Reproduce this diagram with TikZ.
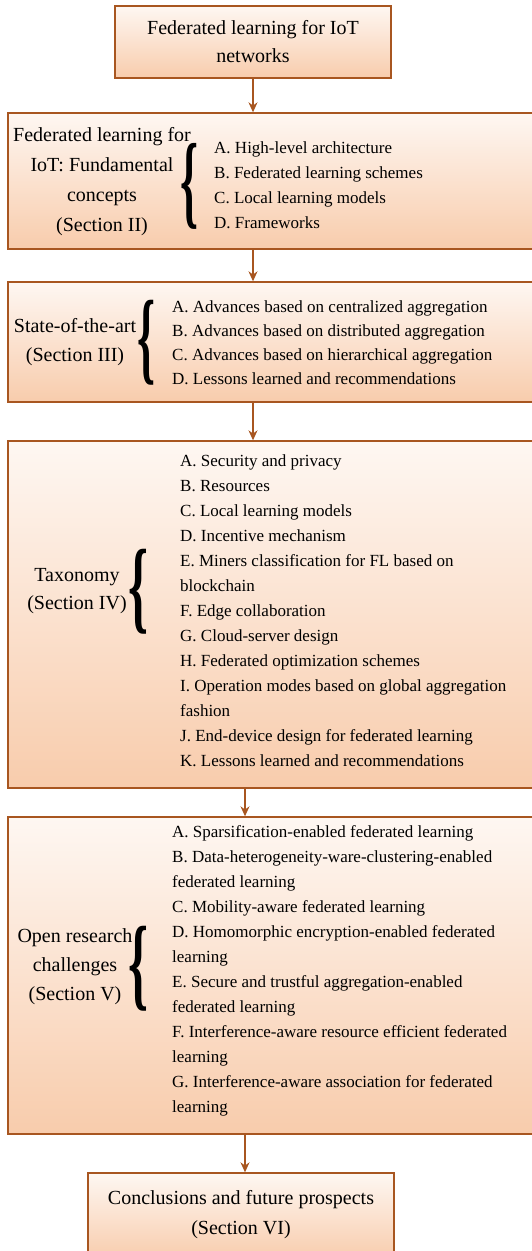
\documentclass[tikz,border=0pt]{standalone}
\usepackage{fontspec}
\setmainfont{Liberation Serif}
\usetikzlibrary{arrows.meta}
\definecolor{boxline}{RGB}{168,86,32}
\definecolor{boxtop}{RGB}{254,247,242}
\definecolor{boxbot}{RGB}{248,204,172}
\definecolor{arr}{RGB}{168,86,32}
\tikzset{
 panel/.style={draw=boxline, line width=1.4pt, top color=boxtop, bottom color=boxbot, rectangle, inner sep=0pt},
 title/.style={font=\fontsize{20}{28}\selectfont, align=center, inner sep=0pt},
 lbl/.style={font=\fontsize{20}{29}\selectfont, align=center, inner sep=0pt},
 items/.style={font=\fontsize{17}{25}\selectfont, align=left, inner sep=0pt, anchor=west},
 brace/.style={inner sep=0pt},
 link/.style={draw=arr, line width=1.1pt, -{Stealth[length=10pt,width=9pt]}},
}
\newcommand{\mybrace}[2]{\resizebox*{#1}{#2}{\fontsize{40}{40}\selectfont\bfseries\{}}
\begin{document}
\begin{tikzpicture}[x=1pt,y=-1pt]
\useasboundingbox (0,0) rectangle (531,1251);
% panels
\node[panel, minimum width=276pt, minimum height=72pt] (b1) at (253,42) {};
\node[panel, minimum width=525pt, minimum height=136pt] (b2) at (270.5,181) {};
\node[panel, minimum width=525pt, minimum height=120pt] (b3) at (270.5,342) {};
\node[panel, minimum width=525pt, minimum height=347pt] (b4) at (270.5,614.5) {};
\node[panel, minimum width=525pt, minimum height=317pt] (b5) at (270.5,975.5) {};
\node[panel, minimum width=306pt, minimum height=87pt] (b6) at (241,1216.5) {};
% box 1
\node[title] (t1) at (253,42) {Federated learning for IoT\\networks};
% box 2
\node[lbl, font=\fontsize{20}{30}\selectfont] (l2) at (102,182) {Federated learning for\\IoT: Fundamental\\concepts\\(Section II)};
\node[brace] (br2) at (189,186) {\mybrace{18pt}{86pt}};
\node[items] (i2) at (214,185) {A. High-level architecture\\B. Federated learning schemes\\C. Local learning models\\D. Frameworks};
% box 3
\node[lbl] (l3) at (75,342) {State-of-the-art\\(Section III)};
\node[brace] (br3) at (146.5,342.5) {\mybrace{18pt}{85pt}};
\node[items, font=\fontsize{17}{24}\selectfont] (i3) at (172,343) {A. Advances based on centralized aggregation\\B. Advances based on distributed aggregation\\C. Advances based on hierarchical aggregation\\D. Lessons learned and recommendations};
% box 4
\node[lbl, font=\fontsize{20}{28}\selectfont] (l4) at (77,591) {Taxonomy\\(Section IV)};
\node[brace] (br4) at (138.5,592) {\mybrace{20pt}{85pt}};
\node[items] (i4) at (180,611) {A. Security and privacy\\B. Resources\\C. Local learning models\\D. Incentive mechanism\\E. Miners classification for FL based on\\blockchain\\F. Edge collaboration\\G. Cloud-server design\\H. Federated optimization schemes\\I. Operation modes based on global aggregation\\fashion\\J. End-device design for federated learning\\K. Lessons learned and recommendations};
% box 5
\node[lbl] (l5) at (75,967) {Open research\\challenges\\(Section V)};
\node[brace] (br5) at (138,969) {\mybrace{20pt}{85pt}};
\node[items] (i5) at (172,970.5) {A. Sparsification-enabled federated learning\\B. Data-heterogeneity-ware-clustering-enabled\\federated learning\\C. Mobility-aware federated learning\\D. Homomorphic encryption-enabled federated\\learning\\E. Secure and trustful aggregation-enabled\\federated learning\\F. Interference-aware resource efficient federated\\learning\\G. Interference-aware association for federated\\learning};
% box 6
\node[lbl, font=\fontsize{20}{30}\selectfont] (t6) at (241,1215) {Conclusions and future prospects\\(Section VI)};
% connectors
\draw[link] (b1.south) -- (b1.south |- b2.north);
\draw[link] (b1.south |- b2.south) -- (b1.south |- b3.north);
\draw[link] (b1.south |- b3.south) -- (b1.south |- b4.north);
\draw[link] ([xshift=4pt]b6.north |- b4.south) -- ([xshift=4pt]b6.north |- b5.north);
\draw[link] ([xshift=4pt]b6.north |- b5.south) -- ([xshift=4pt]b6.north);
\end{tikzpicture}
\end{document}
